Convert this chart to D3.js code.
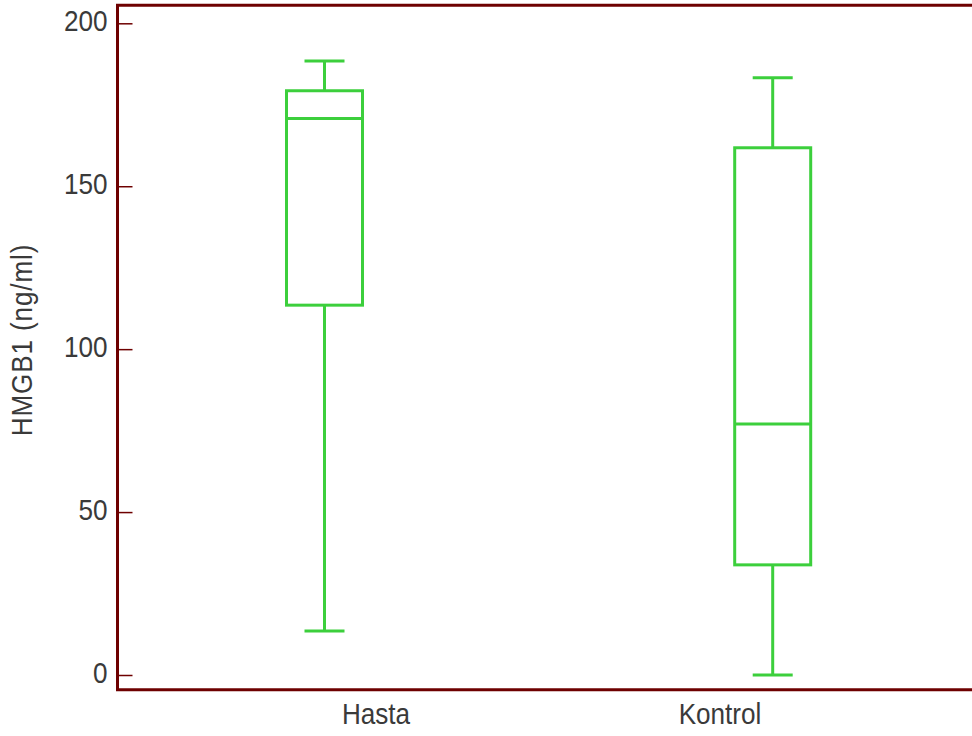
<!DOCTYPE html>
<html>
<head>
<meta charset="utf-8">
<script src="https://cdn.jsdelivr.net/npm/d3@7/dist/d3.min.js"></script>
<style>
  html, body { margin: 0; padding: 0; background: #fff; }
  svg { display: block; }
  text { font-family: "Liberation Sans", Arial, sans-serif; fill: #3a3a3a; }
</style>
</head>
<body>
<svg id="chart" width="972" height="736"></svg>
<script>
// Box-plot summaries per group (HMGB1, ng/ml)
const categories = ["Hasta", "Kontrol"];
const whiskerLow  = [13.5, 0];
const q1          = [113.5, 33.8];
const median      = [170.8, 77.0];
const q3          = [179.3, 161.8];
const whiskerHigh = [188.4, 183.3];
const yTicks = [0, 50, 100, 150, 200];
const yTitle = "HMGB1 (ng/ml)";

const frameColor = "#6e0000";
const boxColor = "#3ccf3c";

const svg = d3.select("#chart");

const frameLeft = 117.5, frameTop = 5.3, frameBottom = 689.7, frameRight = 990;

const y = d3.scaleLinear().domain([0, 200]).range([675, 23.3]);
const x = d3.scalePoint().domain(categories).range([324.5, 772.7]);
const xLabel = d3.scalePoint().domain(categories).range([376, 720]);

const boxW = 76, capW = 40;

// frame
svg.append("path")
  .attr("d", `M${frameRight},${frameTop}H${frameLeft}V${frameBottom}H${frameRight}`)
  .attr("fill", "none")
  .attr("stroke", frameColor)
  .attr("stroke-width", 3);

// y axis: inward ticks and labels
const yAxis = d3.axisLeft(y).tickValues(yTicks).tickSize(-15).tickPadding(10).tickFormat(d3.format("d"));
const gy = svg.append("g").attr("transform", `translate(${frameLeft},0)`).call(yAxis);
gy.select(".domain").remove();
gy.selectAll(".tick line").attr("stroke", frameColor).attr("stroke-width", 1.5);
gy.selectAll(".tick text")
  .attr("x", 0)
  .attr("dy", null)
  .attr("y", 0)
  .attr("font-size", 30)
  .attr("text-anchor", "end")
  .attr("transform", "translate(-10,7.3) scale(0.87,1)");

// y title
svg.append("text")
  .attr("transform", "translate(32,340) rotate(-90) scale(0.87,1)")
  .attr("text-anchor", "middle")
  .attr("font-size", 30)
  .attr("letter-spacing", 1)
  .text(yTitle);

// category labels
svg.append("g").selectAll("text")
  .data(categories)
  .join("text")
  .attr("transform", d => `translate(${xLabel(d)},724) scale(0.87,1)`)
  .attr("text-anchor", "middle")
  .attr("font-size", 30)
  .text(d => d);

// boxes
const data = categories.map((c, i) => ({
  c, lo: whiskerLow[i], q1: q1[i], med: median[i], q3: q3[i], hi: whiskerHigh[i]
}));

const g = svg.append("g")
  .attr("fill", "none")
  .attr("stroke", boxColor)
  .attr("stroke-width", 3);

const box = g.selectAll("g.box").data(data).join("g").attr("class", "box");

// whiskers
box.append("line")
  .attr("x1", d => x(d.c)).attr("x2", d => x(d.c))
  .attr("y1", d => y(d.hi)).attr("y2", d => y(d.q3));
box.append("line")
  .attr("x1", d => x(d.c)).attr("x2", d => x(d.c))
  .attr("y1", d => y(d.q1)).attr("y2", d => y(d.lo));
// caps
box.append("line")
  .attr("x1", d => x(d.c) - capW / 2).attr("x2", d => x(d.c) + capW / 2)
  .attr("y1", d => y(d.hi)).attr("y2", d => y(d.hi));
box.append("line")
  .attr("x1", d => x(d.c) - capW / 2).attr("x2", d => x(d.c) + capW / 2)
  .attr("y1", d => y(d.lo)).attr("y2", d => y(d.lo));
// box
box.append("rect")
  .attr("x", d => x(d.c) - boxW / 2)
  .attr("width", boxW)
  .attr("y", d => y(d.q3))
  .attr("height", d => y(d.q1) - y(d.q3));
// median
box.append("line")
  .attr("x1", d => x(d.c) - boxW / 2).attr("x2", d => x(d.c) + boxW / 2)
  .attr("y1", d => y(d.med)).attr("y2", d => y(d.med));
</script>
</body>
</html>
